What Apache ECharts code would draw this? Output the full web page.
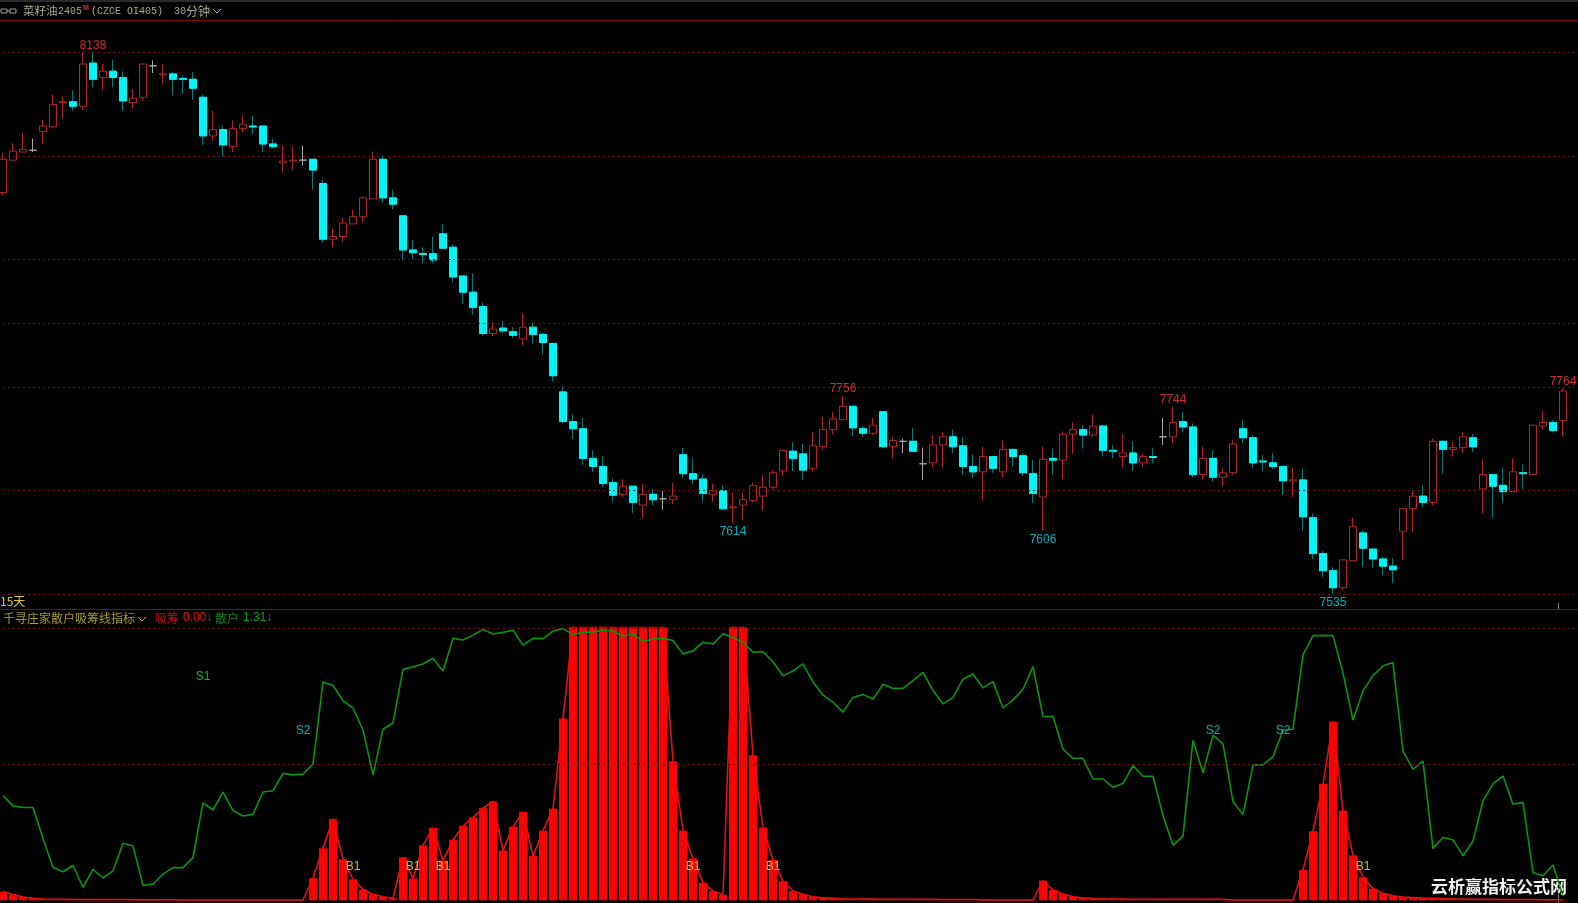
<!DOCTYPE html>
<html><head><meta charset="utf-8">
<style>html,body{margin:0;padding:0;background:#000;overflow:hidden}#c{width:1578px;height:903px}</style>
<script src="https://cdn.jsdelivr.net/npm/echarts@6/dist/echarts.min.js"></script>
</head><body><div id="c"></div>
<script>
const opens=[
7982,8018,8027,8029,8050,8055,8082,8083,8078,8126,
8110,8117,8110,8082,8088,8123,8113,8114,8109,8108,
8088,8045,8052,8033,8053,8056,8056,8036,8015,8017,
8018,8019,7992,7930,7933,7947,7955,7975,8019,7976,
7956,7918,7914,7914,7936,7921,7889,7871,7855,7825,
7831,7827,7819,7832,7824,7814,7760,7727,7719,7686,
7677,7659,7646,7655,7634,7646,7641,7640,7690,7669,
7663,7646,7650,7631,7634,7639,7644,7654,7672,7694,
7691,7675,7699,7718,7729,7744,7719,7714,7738,7699,
7705,7705,7680,7681,7701,7710,7700,7677,7671,7688,
7671,7696,7689,7669,7643,7686,7684,7713,7718,7712,
7722,7695,7688,7692,7681,7688,7710,7710,7727,7721,
7668,7686,7665,7670,7719,7709,7683,7681,7677,7661,
7662,7620,7580,7561,7542,7572,7603,7585,7574,7566,
7605,7630,7644,7637,7705,7696,7698,7709,7652,7668,
7656,7649,7670,7668,7722,7726,7728];
const closes=[
8019,8028,8030,8029,8056,8080,8083,8078,8125,8108,
8117,8110,8084,8087,8125,8123,8114,8108,8108,8098,
8045,8052,8035,8053,8058,8055,8036,8033,8017,8018,
8018,8007,7930,7933,7948,7955,7976,8019,7976,7969,
7918,7915,7913,7907,7920,7888,7871,7854,7825,7830,
7828,7823,7832,7824,7815,7778,7727,7719,7686,7677,
7658,7645,7655,7637,7646,7640,7641,7644,7669,7663,
7647,7650,7630,7632,7640,7656,7654,7670,7695,7686,
7673,7700,7718,7730,7744,7720,7714,7723,7699,7706,
7705,7694,7680,7701,7710,7699,7677,7671,7688,7675,
7696,7688,7670,7647,7685,7684,7713,7718,7712,7722,
7695,7694,7692,7681,7688,7687,7710,7726,7721,7668,
7686,7665,7670,7702,7709,7681,7682,7677,7661,7662,
7621,7580,7561,7542,7573,7610,7586,7574,7566,7562,
7630,7644,7637,7705,7696,7698,7710,7699,7668,7655,
7649,7671,7669,7723,7726,7717,7761];
const lows=[
7979,8018,8027,8027,8036,8053,8065,8073,8074,8099,
8096,8099,8073,8076,8084,8115,8103,8090,8092,8085,
8035,8040,8022,8027,8049,8047,8027,8031,8004,8007,
8012,7985,7926,7921,7927,7947,7949,7975,7971,7963,
7907,7908,7903,7903,7920,7882,7858,7846,7822,7822,
7825,7820,7811,7814,7802,7772,7725,7708,7679,7671,
7654,7638,7643,7625,7620,7634,7629,7635,7664,7657,
7638,7638,7628,7614,7617,7637,7628,7651,7666,7672,
7662,7672,7695,7713,7729,7711,7710,7712,7698,7686,
7692,7693,7662,7676,7676,7692,7668,7664,7639,7670,
7665,7677,7666,7636,7606,7668,7663,7691,7697,7710,
7688,7686,7676,7672,7677,7681,7701,7703,7715,7665,
7663,7660,7655,7668,7703,7675,7672,7674,7645,7643,
7606,7574,7554,7535,7539,7572,7565,7564,7556,7547,
7573,7604,7632,7634,7669,7688,7692,7693,7625,7620,
7637,7649,7652,7668,7718,7715,7711];
const highs=[
8026,8037,8048,8042,8063,8091,8089,8096,8138,8138,
8125,8130,8117,8097,8125,8129,8125,8116,8112,8116,
8091,8073,8056,8062,8068,8067,8056,8042,8034,8033,
8034,8019,7996,7942,7954,7963,7977,8027,8023,7985,
7957,7929,7921,7933,7947,7924,7889,7892,7860,7837,
7839,7832,7847,7837,7826,7814,7766,7735,7731,7695,
7689,7664,7663,7655,7658,7652,7650,7659,7698,7686,
7669,7658,7656,7648,7648,7659,7667,7673,7695,7704,
7702,7715,7732,7738,7756,7744,7722,7731,7738,7710,
7708,7720,7698,7712,7715,7718,7710,7690,7699,7688,
7706,7697,7692,7684,7699,7697,7716,7726,7723,7735,
7723,7701,7713,7705,7691,7698,7731,7744,7738,7725,
7699,7695,7675,7706,7729,7712,7690,7692,7678,7675,
7675,7625,7583,7565,7573,7620,7606,7586,7577,7575,
7630,7650,7656,7708,7706,7704,7715,7713,7685,7668,
7676,7686,7680,7723,7739,7729,7764];
const goldenPrices=[8138,8022.8,7907.7,7836.5,7765.3,7650,7535];

const retailLine=[
38.5,34.7,34.1,34.1,22.8,12.1,10.5,12.9,4.8,11.4,
8.2,10.8,21.0,20.0,5.5,5.9,9.6,12.0,12.0,15.7,
35.9,33.2,39.8,33.0,31.0,31.6,39.8,40.3,46.7,46.1,
46.4,50.1,80.3,79.0,73.3,70.7,62.6,46.1,62.9,65.2,
84.9,85.9,86.9,89.0,84.2,96.3,95.7,97.5,99.6,97.9,
98.5,99.3,93.8,96.3,96.2,99.0,99.9,97.7,98.5,98.7,
99.3,99.0,97.1,97.9,95.2,96.1,96.3,95.5,90.6,91.7,
94.9,94.2,98.0,96.6,94.9,91.2,91.4,87.7,82.5,84.3,
86.9,80.3,75.5,72.8,69.2,74.6,75.7,73.9,79.4,77.9,
77.9,80.8,83.8,77.1,72.2,74.6,81.3,83.2,78.1,80.4,
70.7,73.7,77.6,85.9,67.6,67.6,55.6,52.2,52.2,44.6,
44.6,41.5,43.0,49.5,45.6,45.6,31.1,20.2,23.7,58.8,
46.9,60.7,57.5,36.3,31.5,49.8,49.8,52.8,62.6,62.9,
90.2,97.3,97.3,97.3,83.5,66.3,77.0,82.6,86.2,87.4,
54.8,48.2,51.2,19.0,23.2,22.2,16.4,21.8,36.6,42.8,
45.7,35.3,36.0,10.2,9.0,13.0,1.6];
const accumBars=[
3.2,2.1,1.2,0.7,0.5,0.4,0.4,0.3,0.3,0.3,
0.3,0.3,0.3,0.2,0.2,0.2,0.2,0.2,0.1,0.1,
0.1,0.1,0.1,0.1,0.1,0.1,0.1,0.1,0.1,0.1,
0.1,8.1,19.1,29.9,15.1,7.7,4.0,2.2,1.3,0.7,
15.8,8.0,20.2,26.6,14.6,22.2,27.3,30.5,33.9,36.4,
18.3,27.1,32.5,16.3,25.6,33.7,66.8,101,101,101,
101,101,101,101,101,101,101,51.1,25.6,15.4,
6.5,3.4,2.0,101,101,53.3,26.8,14.8,7.0,3.4,
2.2,1.3,0.9,0.7,0.5,0.5,0.5,0.5,0.4,0.4,
0.4,0.4,0.4,0.4,0.3,0.3,0.3,0.3,0.1,0.1,
0.1,0.1,0.1,0.1,7.2,3.8,2.3,1.3,0.9,0.6,
0.5,0.5,0.5,0.4,0.4,0.4,0.4,0.4,0.4,0.4,
0.4,0.4,0.4,0.1,0.1,0.1,0.1,0.1,0.1,0.1,
11.2,25.4,42.8,65.6,33.0,16.5,8.5,4.3,2.6,1.7,
1.2,1.0,0.8,0.7,0.6,0.5,0.5,0.4,0.4,0.4,
0.3,0.3,0.3,0.3,0.2,0.2,0.2];
const indicatorLevels=[100,50];

const peakIdx=[9,84,117,156];
const peakVal=[8138,7756,7744,7764];
const troughIdx=[73,104,133];
const troughVal=[7614,7606,7535];
const b1Idx=[35,41,44,69,77,136];
const s2Idx=[30,121,128];
const s1Idx=[20];

const categories=opens.map((_,i)=>String(i));
categories.push('');

const TXT='"Liberation Sans","Noto Sans CJK SC",sans-serif';
const CJK='"Noto Sans CJK SC",sans-serif';
const MONO='"Liberation Mono",monospace';
function t(x,y,text,font,fill,extra){return {type:'text',x,y,silent:true,style:Object.assign({text,font,fill,textVerticalAlign:'middle'},extra||{})};}
function seg(x1,y1,x2,y2,stroke){return {type:'line',silent:true,shape:{x1,y1,x2,y2},style:{stroke,lineWidth:1}};}
function chev(x,y,stroke){return {type:'polyline',silent:true,shape:{points:[[x,y],[x+4,y+4],[x+8,y]]},style:{stroke,lineWidth:1,fill:null}};}

const goldStyle={type:[2,3],color:'#6e0d0d',width:1};
const chrome=[
 {type:'rect',silent:true,shape:{x:0,y:0,width:1578,height:2},style:{fill:'#2a2a2a'}},
 seg(0,20.5,1578,20.5,'#7a0c0c'),
 seg(0,609.5,1578,609.5,'#7a0c0c'),
 {type:'rect',silent:true,shape:{x:1,y:9,width:6,height:4},style:{stroke:'#a0a0a0',fill:null,lineWidth:1}},
 {type:'rect',silent:true,shape:{x:10,y:9,width:6,height:4},style:{stroke:'#a0a0a0',fill:null,lineWidth:1}},
 seg(7,11,10,11,'#a0a0a0'),
 t(23,11,'菜籽油','11.5px '+CJK,'#a8a88c'),
 t(58,11,'2405','10px '+MONO,'#a8a88c'),
 t(83,8,'M','bold 7px '+TXT,'#d83030'),
 t(91,11,'(CZCE OI405)','10px '+MONO,'#a8a88c'),
 t(174,11,'30','10px '+MONO,'#a8a88c'),
 t(186,11,'分钟','12px '+CJK,'#a8a88c'),
 chev(213,9,'#b0b0b0'),
 t(0,601,'15天','12px '+CJK,'#d8d020'),
 t(3,618,'千寻庄家散户吸筹线指标','12px '+CJK,'#a69c1e'),
 chev(138,617,'#b8b020'),
 t(155,618,'吸筹','12px '+CJK,'#b01212'),
 t(183,618,'0.00↓','12px '+TXT,'#f01010'),
 t(215,618,'散户','12px '+CJK,'#12801a'),
 t(243,618,'1.31↓','12px '+TXT,'#0aa01a'),
 seg(1558.5,603,1558.5,609,'#777'),
 seg(1558.5,892,1558.5,903,'#777'),
 t(1431,887,'云析赢指标公式网','bold 17px '+CJK,'#f2f2f2',{textShadowColor:'#000',textShadowBlur:3})
];

const lbl=(color,pos,dist)=>({show:true,position:pos,distance:dist,color,fontSize:12,fontFamily:TXT,formatter:p=>p.data[2]});
const sigLabel=(idxs,val,text)=>idxs.map(i=>[i,val,text]);

const option={
 backgroundColor:'#000',animation:false,
 graphic:chrome,
 grid:[{left:-2,top:20,width:1580,height:589.3,outerBoundsMode:'none'},{left:-2,top:627.3,width:1580,height:273,outerBoundsMode:'none'}],
 xAxis:[
  {type:'category',gridIndex:0,data:categories,show:false,boundaryGap:true},
  {type:'category',gridIndex:1,data:categories,show:false,boundaryGap:true}],
 yAxis:[
  {type:'value',gridIndex:0,min:7518,max:8174,show:false,splitLine:{show:false}},
  {type:'value',gridIndex:1,min:0,max:100.37,show:false,splitLine:{show:false}}],
 series:[
  {type:'candlestick',name:'K线',xAxisIndex:0,yAxisIndex:0,barWidth:7,z:3,
   data:opens.map((o,i)=>[o,closes[i],lows[i],highs[i]]),
   itemStyle:{color:'#000',color0:'#067a7a',borderColor:'#b02626',borderColor0:'#067a7a',borderColorDoji:'#a8a8a8',borderWidth:1},
   markLine:{silent:true,symbol:'none',label:{show:false},animation:false,lineStyle:goldStyle,
    data:goldenPrices.map(v=>({yAxis:v}))}},
  {type:'candlestick',name:'K线实体',xAxisIndex:0,yAxisIndex:0,barWidth:7,z:4,
   data:opens.map((o,i)=>closes[i]<o?[o,closes[i],closes[i],o]:['-','-','-','-']),
   itemStyle:{color:'#00f6f6',color0:'#00f6f6',borderColor:'#00f6f6',borderColor0:'#00f6f6',borderWidth:1}},
  {type:'scatter',xAxisIndex:0,yAxisIndex:0,symbolSize:0,z:6,
   data:peakIdx.map((i,k)=>[i,peakVal[k],String(peakVal[k])]),label:lbl('#ff3838','top',1)},
  {type:'scatter',xAxisIndex:0,yAxisIndex:0,symbolSize:0,z:6,
   data:troughIdx.map((i,k)=>[i,troughVal[k],String(troughVal[k])]),label:lbl('#00dce4','bottom',3)},

  {type:'line',name:'吸筹线',xAxisIndex:1,yAxisIndex:1,data:accumBars,symbol:'none',z:2,clip:true,
   lineStyle:{color:'#e01414',width:1.6}},
  {type:'bar',name:'吸筹',xAxisIndex:1,yAxisIndex:1,data:accumBars,barWidth:8,z:3,clip:true,itemStyle:{color:'#ff0000'}},
  {type:'line',name:'散户',xAxisIndex:1,yAxisIndex:1,data:retailLine,symbol:'none',z:4,
   lineStyle:{color:'#0a960a',width:1.6},
   markLine:{silent:true,symbol:'none',label:{show:false},animation:false,lineStyle:goldStyle,
    data:indicatorLevels.map(v=>({yAxis:v}))}},
  {type:'scatter',xAxisIndex:1,yAxisIndex:1,symbolSize:0,z:6,data:sigLabel(b1Idx,12.3,'B1'),label:lbl('#ffe81a','inside',0)},
  {type:'scatter',xAxisIndex:1,yAxisIndex:1,symbolSize:0,z:6,data:sigLabel(s2Idx,62.2,'S2'),label:lbl('#00dce8','inside',0)},
  {type:'scatter',xAxisIndex:1,yAxisIndex:1,symbolSize:0,z:6,data:sigLabel(s1Idx,82.2,'S1'),label:lbl('#00f020','inside',0)}
 ]
};
const chart=echarts.init(document.getElementById('c'),null,{renderer:'canvas',width:1578,height:903});
chart.setOption(option);
</script></body></html>
